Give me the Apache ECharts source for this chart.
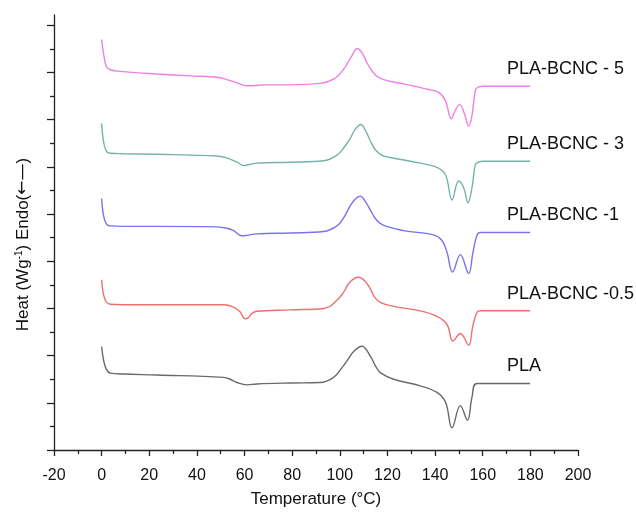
<!DOCTYPE html>
<html>
<head>
<meta charset="utf-8">
<script src="https://cdn.jsdelivr.net/npm/echarts@6/dist/echarts.min.js"></script>
<style>html,body{margin:0;padding:0;background:#fff}#c{width:636px;height:513px}</style>
</head>
<body>
<div id="c"></div>
<script>
const xTicks = [-20, 0, 20, 40, 60, 80, 100, 120, 140, 160, 180, 200];
const yTicks = [0, 1, 2, 3, 4, 5, 6, 7, 8, 9];
const yMinorTicks = [0.5, 1.5, 2.5, 3.5, 4.5, 5.5, 6.5, 7.5, 8.5];
const seriesNames = ['PLA-BCNC - 5', 'PLA-BCNC - 3', 'PLA-BCNC -1', 'PLA-BCNC -0.5', 'PLA'];

// PLA-BCNC - 5 (pink)
const tempB5 = [0, 0.76, 1.9, 3.6, 9.2, 23.2, 37.2, 48.4, 52.6, 56.8, 61, 63.8, 68, 79.2, 91.8, 97.4, 101.6, 105.1, 107.3, 109.4, 111.9, 114.9, 118.4, 126.8, 136.6, 141.5, 144.3, 146.8, 148.5, 150.3, 152.3, 154.1, 155.5, 156.9, 158.1, 160.2, 179.9];
const heatB5 = [8.70, 8.42, 8.14, 8.06, 8.02, 7.97, 7.93, 7.90, 7.85, 7.78, 7.72, 7.72, 7.74, 7.74, 7.77, 7.86, 8.07, 8.36, 8.51, 8.41, 8.16, 7.95, 7.85, 7.76, 7.65, 7.58, 7.41, 7.02, 7.20, 7.32, 7.13, 6.86, 7.09, 7.62, 7.69, 7.71, 7.71];

// PLA-BCNC - 3 (teal)
const tempB3 = [0, 0.76, 1.9, 3.6, 9.2, 23.2, 37.2, 48.4, 52.6, 56.8, 59.6, 62, 65.2, 79.2, 93.2, 98.8, 101.6, 104.3, 106.5, 108.8, 111, 112.8, 115, 118, 121.2, 133.8, 140.8, 144.4, 147.1, 149.9, 152, 153.8, 155.5, 156.9, 158.1, 160.2, 179.9];
const heatB3 = [6.92, 6.55, 6.34, 6.29, 6.28, 6.27, 6.25, 6.23, 6.19, 6.10, 6.03, 6.05, 6.08, 6.10, 6.13, 6.25, 6.40, 6.60, 6.80, 6.90, 6.75, 6.55, 6.36, 6.24, 6.20, 6.08, 5.99, 5.83, 5.30, 5.70, 5.56, 5.24, 5.56, 6.05, 6.10, 6.12, 6.12];

// PLA-BCNC -1 (blue)
const tempB1 = [0, 0.76, 1.9, 3.6, 9.2, 23.2, 48.4, 52.6, 55.4, 58.9, 61, 65.2, 79.2, 93.2, 98.8, 101.6, 104.3, 106.5, 108.6, 110.8, 112.8, 115, 118, 126.8, 139.4, 142.9, 145, 147.3, 150.6, 154.1, 155.9, 157.6, 159, 179.9];
const heatB1 = [5.33, 4.98, 4.80, 4.75, 4.74, 4.74, 4.73, 4.70, 4.65, 4.54, 4.55, 4.58, 4.60, 4.63, 4.75, 4.92, 5.17, 5.32, 5.38, 5.26, 5.09, 4.90, 4.77, 4.65, 4.56, 4.44, 4.19, 3.77, 4.14, 3.74, 4.19, 4.55, 4.61, 4.61];

// PLA-BCNC -0.5 (red)
const tempB05 = [0, 0.76, 1.9, 3.6, 9.2, 51.2, 55.4, 58.1, 60.2, 61.5, 63, 65.2, 79.2, 93.2, 100.2, 104.3, 107.9, 111.4, 115.6, 121.2, 133.8, 140.8, 145, 147.5, 150.6, 154.1, 155.8, 157.6, 159, 179.9];
const heatB05 = [3.61, 3.30, 3.14, 3.09, 3.08, 3.08, 3.03, 2.93, 2.78, 2.80, 2.89, 2.94, 2.97, 3.00, 3.25, 3.56, 3.66, 3.53, 3.18, 3.06, 2.95, 2.83, 2.66, 2.31, 2.47, 2.22, 2.62, 2.92, 2.95, 2.95];

// PLA (grey)
const tempPLA = [0, 0.76, 1.9, 3.6, 9.2, 23.2, 51.2, 54, 56.8, 61, 65.2, 79.2, 91.8, 97.4, 101, 103, 106, 109.3, 112.8, 115, 117, 122.6, 133.8, 140.8, 144.4, 147.1, 150.6, 153.6, 155.5, 157.6, 179.9];
const heatPLA = [2.19, 1.92, 1.72, 1.63, 1.61, 1.59, 1.54, 1.50, 1.43, 1.38, 1.40, 1.42, 1.43, 1.54, 1.75, 1.89, 2.10, 2.20, 1.99, 1.78, 1.64, 1.50, 1.36, 1.22, 1.01, 0.47, 0.94, 0.63, 1.12, 1.41, 1.41];

const temps = [tempB5, tempB3, tempB1, tempB05, tempPLA];
const heats = [heatB5, heatB3, heatB1, heatB05, heatPLA];
const colors = ['#f07fe4', '#74b3a9', '#7b72ec', '#ef6f6f', '#6a6a6a'];
const labelTemp = 170;

const chart = echarts.init(document.getElementById('c'), null, {renderer: 'canvas'});
const font = 'Liberation Sans, Arial, sans-serif';
const axisColor = '#222';

const series = seriesNames.map((name, i) => ({
  name: name,
  type: 'line',
  data: temps[i].map((t, j) => [t, heats[i][j]]),
  showSymbol: false,
  smooth: 0.4,
  lineStyle: {color: colors[i], width: 1.4},
  itemStyle: {color: colors[i]},
  animation: false,
  markPoint: {
    symbol: 'circle',
    symbolSize: 1,
    animation: false,
    itemStyle: {color: 'rgba(0,0,0,0)'},
    data: [{coord: [labelTemp, heats[i][heats[i].length - 1]]}],
    label: {
      show: true,
      formatter: name,
      position: 'right',
      distance: 0,
      offset: [0, -17],
      color: '#111',
      fontSize: 18,
      fontFamily: font
    }
  }
}));

const yBase = {
  type: 'value',
  min: 0,
  max: 9.22,
  interval: 1,
  position: 'left',
  offset: 0,
  axisLabel: {show: false},
  splitLine: {show: false}
};

chart.setOption({
  backgroundColor: '#fff',
  animation: false,
  grid: {left: 54, right: 58, top: 15, bottom: 58, containLabel: false},
  xAxis: {
    type: 'value',
    min: xTicks[0],
    max: xTicks[xTicks.length - 1],
    interval: 20,
    name: 'Temperature (°C)',
    nameLocation: 'middle',
    nameGap: 41,
    nameTextStyle: {fontSize: 17, color: '#111', fontFamily: font},
    axisLine: {show: true, onZero: false, lineStyle: {color: axisColor, width: 1.3}},
    axisTick: {show: true, inside: false, length: 6, lineStyle: {color: axisColor, width: 1.3}},
    minorTick: {show: true, splitNumber: 2, length: 4, lineStyle: {color: axisColor, width: 1.3}},
    axisLabel: {fontSize: 16, color: '#111', margin: 18, fontFamily: font},
    splitLine: {show: false}
  },
  yAxis: [
    Object.assign({}, yBase, {
      name: 'Heat (Wg{sup|-1}) Endo({arr|←—})',
      nameLocation: 'middle',
      nameRotate: 90,
      nameGap: 22,
      nameTextStyle: {
        fontSize: 17, color: '#111', fontFamily: font,
        padding: [0, 24, 0, 0],
        rich: {
          sup: {fontSize: 10, color: '#111', fontFamily: font, verticalAlign: 'top', padding: [0, 0, 8, 0]},
          arr: {fontSize: 17, color: '#111', fontFamily: 'DejaVu Sans'}
        }
      },
      axisLine: {show: true, onZero: false, lineStyle: {color: axisColor, width: 1.3}},
      axisTick: {show: true, inside: false, length: 7, customValues: yTicks, lineStyle: {color: axisColor, width: 1.3}},
      minorTick: {show: false}
    }),
    Object.assign({}, yBase, {
      axisLine: {show: false, onZero: false},
      axisTick: {show: true, inside: false, length: 4, customValues: yMinorTicks, lineStyle: {color: axisColor, width: 1.3}},
      minorTick: {show: false}
    })
  ],
  series: series
});
</script>
</body>
</html>
